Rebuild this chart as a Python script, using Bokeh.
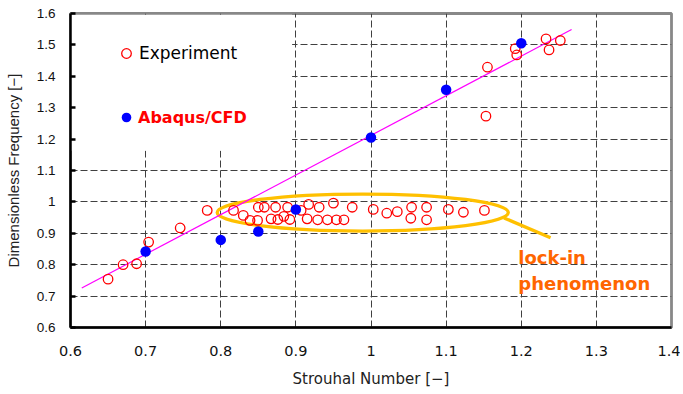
from bokeh.plotting import figure
from bokeh.models import Range1d, FixedTicker, Legend, LegendItem, BoxAnnotation
from bokeh.embed import file_html
from bokeh.resources import INLINE
from bokeh.core.properties import value

# ---------------- data ----------------
exp_x = [0.650, 0.670, 0.688, 0.704, 0.746, 0.782,
         0.817, 0.830, 0.839, 0.849, 0.850, 0.858, 0.867, 0.873, 0.876, 0.884,
         0.889, 0.892, 0.907, 0.915, 0.917, 0.931, 0.929, 0.942, 0.950, 0.954,
         0.964, 0.975, 1.003, 1.021, 1.035, 1.054, 1.053, 1.074, 1.074, 1.103,
         1.123, 1.151,
         1.153, 1.155, 1.192, 1.194, 1.233, 1.237, 1.252]
exp_y = [0.754, 0.800, 0.803, 0.872, 0.917, 0.973,
         0.973, 0.957, 0.941, 0.941, 0.983, 0.983, 0.946, 0.983, 0.944, 0.954,
         0.983, 0.944, 0.973, 0.946, 0.992, 0.983, 0.943, 0.943, 0.996, 0.943,
         0.943, 0.983, 0.976, 0.964, 0.969, 0.983, 0.948, 0.983, 0.943, 0.976,
         0.967, 0.973,
         1.273, 1.429, 1.488, 1.468, 1.519, 1.484, 1.514]

cfd_x = [0.70, 0.80, 0.85, 0.90, 1.00, 1.10, 1.20]
cfd_y = [0.842, 0.879, 0.906, 0.976, 1.205, 1.357, 1.505]

fit_x = [0.615, 1.267]
fit_y = [0.726, 1.549]

x_ticks = [0.6, 0.7, 0.8, 0.9, 1.0, 1.1, 1.2, 1.3, 1.4]
x_tick_labels = ["0.6", "0.7", "0.8", "0.9", "1", "1.1", "1.2", "1.3", "1.4"]
y_ticks = [0.6, 0.7, 0.8, 0.9, 1.0, 1.1, 1.2, 1.3, 1.4, 1.5, 1.6]
y_tick_labels = ["0.6", "0.7", "0.8", "0.9", "1", "1.1", "1.2", "1.3", "1.4", "1.5", "1.6"]

series_labels = ["Experiment", "Abaqus/CFD"]
note_lines = ["lock-in", "phenomenon"]
x_title = "Strouhal Number [\u2212]"
y_title = "Dimensionless Frequency [\u2212]"

# annotation geometry (lock-in ellipse, pointer, note)
ell_x, ell_y, ell_w, ell_h = [0.989], [0.966], [0.3875], [0.118]
ptr_x, ptr_y = [1.177, 1.239], [0.949, 0.886]
note_x, note_y = [1.196, 1.196], [0.822, 0.739]

# ---------------- figure ----------------
p = figure(width=680, height=391, output_backend="svg", toolbar_location=None,
           x_range=Range1d(0.6, 1.4), y_range=Range1d(0.6, 1.6),
           min_border_left=70, min_border_right=9, min_border_top=13, min_border_bottom=64)
p.background_fill_color = "white"
p.border_fill_color = "white"
p.outline_line_color = "#888888"
p.outline_line_width = 2.8

# axes
p.xaxis.ticker = FixedTicker(ticks=x_ticks)
p.xaxis.major_label_overrides = dict(zip(x_ticks, x_tick_labels))
p.yaxis.ticker = FixedTicker(ticks=y_ticks)
p.yaxis.major_label_overrides = dict(zip(y_ticks, y_tick_labels))

for ax in (p.xaxis, p.yaxis):
    ax.axis_line_color = "black"
    ax.axis_line_width = 2.5
    ax.minor_tick_line_color = None
    ax.major_tick_out = 0
    ax.axis_label_text_font_style = "normal"
    ax.axis_label_text_color = "#222222"
    ax.major_label_text_color = "#111111"

p.xaxis.major_tick_in = 0
p.xaxis.major_label_standoff = 18
p.xaxis.major_label_text_font = "DejaVu Sans"
p.xaxis.major_label_text_font_size = "14.5px"
p.xaxis.axis_label = x_title
p.xaxis.axis_label_text_font = "DejaVu Sans"
p.xaxis.axis_label_text_font_size = "15px"
p.xaxis.axis_label_standoff = 11

p.yaxis.major_tick_in = 5
p.yaxis.major_tick_line_color = "black"
p.yaxis.major_tick_line_width = 2.5
p.yaxis.major_label_standoff = 15
p.yaxis.major_label_text_font = "Liberation Sans"
p.yaxis.major_label_text_font_size = "13.5px"
p.yaxis.axis_label = y_title
p.yaxis.axis_label_text_font = "Liberation Sans"
p.yaxis.axis_label_text_font_size = "15px"
p.yaxis.axis_label_standoff = 12

for g in (p.xgrid, p.ygrid):
    g.grid_line_color = "#404040"
    g.grid_line_dash = "7 3"
    g.grid_line_width = 1

# white legend area hiding the grid
legend_bg = BoxAnnotation(left=0.6, right=0.895, bottom=1.163, top=1.596,
                          fill_color="white", fill_alpha=1.0, line_color=None,
                          level="underlay")
p.add_layout(legend_bg)

# lock-in ellipse and pointer
p.ellipse(x=ell_x, y=ell_y, width=ell_w, height=ell_h,
          fill_color=None, line_color="#FFC000", line_width=3.3)
p.line(ptr_x, ptr_y, line_color="#FFC000", line_width=3.3)

# fitted line
p.line(fit_x, fit_y, line_color="#FF00FF", line_width=1.2)

# series
r_exp = p.scatter(exp_x, exp_y, marker="circle", size=9.5, fill_color=None,
                  line_color="#FF0000", line_width=1.3)
r_cfd = p.scatter(cfd_x, cfd_y, marker="circle", size=10.5, fill_color="#0000FF",
                  line_color=None)

# note text
p.text(x=note_x, y=note_y, text=note_lines, text_font=value("DejaVu Sans"),
       text_font_style="bold", text_font_size="18px", text_color="#FF6600",
       text_align="left", text_baseline="alphabetic")

# legends
leg1 = Legend(items=[LegendItem(label=series_labels[0], renderers=[r_exp])],
              location=(44, 262), padding=0, margin=0, glyph_width=24, glyph_height=24,
              label_height=24, label_standoff=1, background_fill_alpha=0,
              border_line_alpha=0, label_text_font="DejaVu Sans",
              label_text_font_size="17px", label_text_color="black")
leg2 = Legend(items=[LegendItem(label=series_labels[1], renderers=[r_cfd])],
              location=(44, 198), padding=0, margin=0, glyph_width=24, glyph_height=24,
              label_height=24, label_standoff=0, background_fill_alpha=0,
              border_line_alpha=0, label_text_font="DejaVu Sans",
              label_text_font_style="bold",
              label_text_font_size="16px", label_text_color="#FF0000")
p.add_layout(leg1)
p.add_layout(leg2)

open("out.html", "w").write(file_html(p, INLINE))
